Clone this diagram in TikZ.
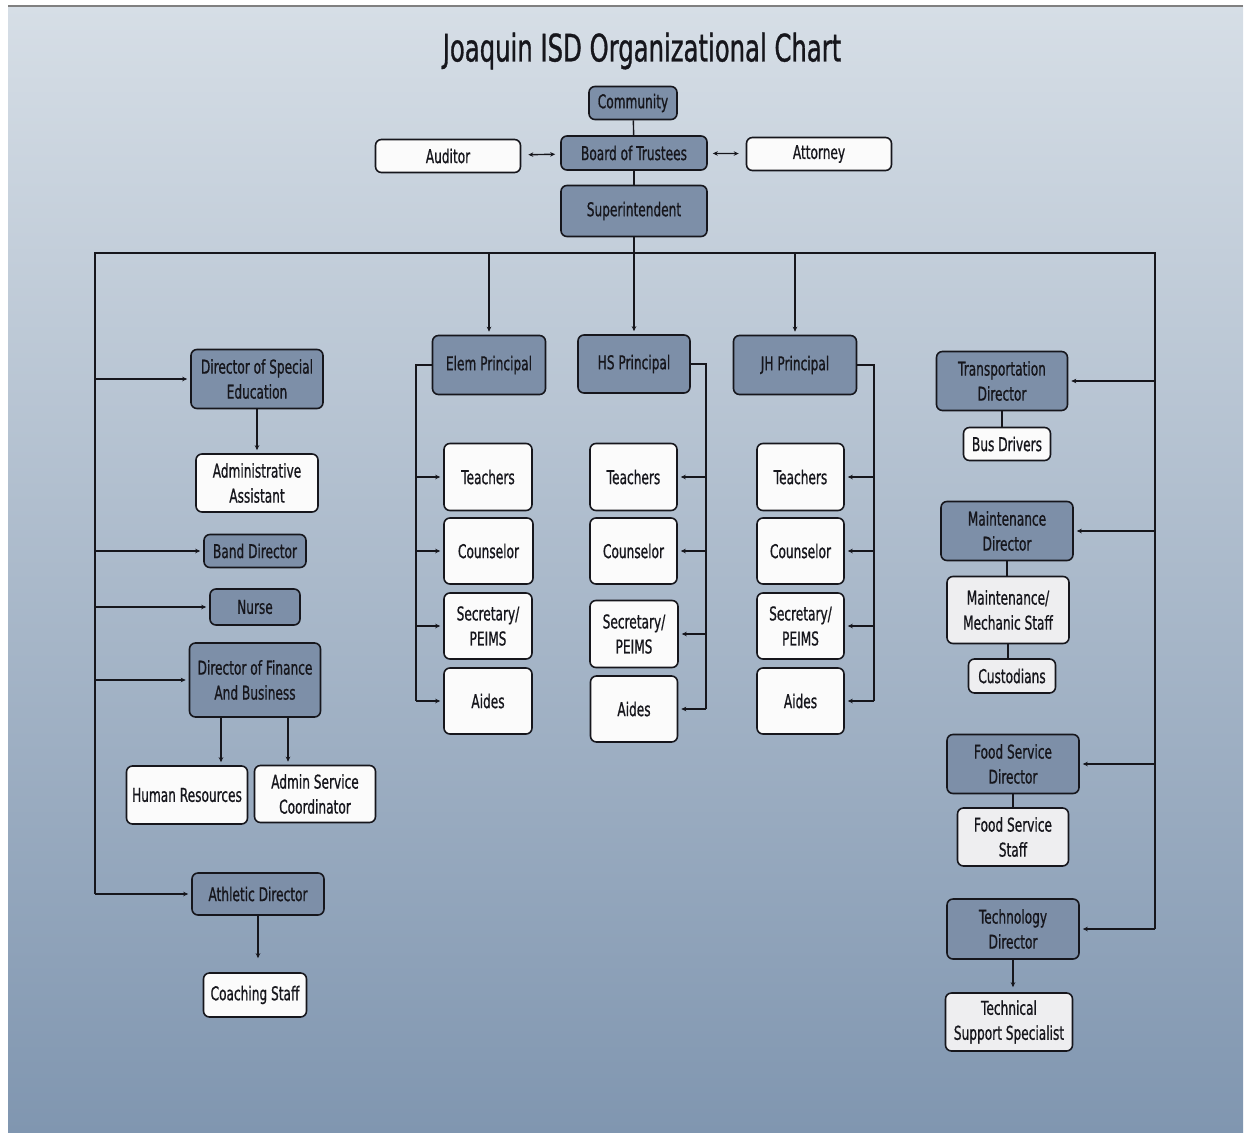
\documentclass[tikz,border=0pt]{standalone}
\usepackage{fontspec}
\setmainfont[FakeStretch=0.64,FakeBold=0.8]{DejaVu Sans}
\usetikzlibrary{arrows.meta}
\definecolor{bgtop}{RGB}{214,222,230}
\definecolor{bgbot}{RGB}{128,150,176}
\definecolor{dfill}{RGB}{125,143,168}
\definecolor{wfill}{RGB}{251,251,251}
\definecolor{lfill}{RGB}{238,238,240}
\definecolor{ink}{RGB}{22,22,28}
\tikzset{
  box/.style={draw=ink, line width=1.6pt, rounded corners=6pt, inner sep=0pt, align=center,
    text=ink, font=\fontsize{19}{25}\selectfont},
  dbox/.style={box, fill=dfill},
  wbox/.style={box, fill=wfill},
  lbox/.style={box, fill=lfill},
  bus/.style={draw=ink, line width=2.2pt},
  link/.style={draw=ink, line width=1.4pt},
  arr/.style={draw=ink, line width=1.6pt, -{Stealth[length=5pt,width=4.5pt]}, shorten >=3pt},
  darr/.style={draw=ink, line width=1.4pt, {Stealth[length=5pt,width=4.5pt]}-{Stealth[length=5pt,width=4.5pt]}, shorten >=5pt, shorten <=7pt},
}
\begin{document}
\begin{tikzpicture}[x=1pt,y=-1pt]
\useasboundingbox (0,0) rectangle (1249,1132);
\fill[top color=bgtop, bottom color=bgbot] (8,6) rectangle (1243,1132);
\draw[line width=1.2pt, color=gray] (8,6) -- (1243,6);

\node[text=ink, font=\fontsize{38}{40}\selectfont] (title) at (642,51) {Joaquin ISD Organizational Chart};

% top
\node[dbox, minimum width=88pt, minimum height=33pt] (com) at (633,103) {Community};
\node[dbox, minimum width=146pt, minimum height=34pt] (bot) at (634,153) {Board of Trustees};
\node[wbox, minimum width=145pt, minimum height=33pt] (aud) at (448,156) {Auditor};
\node[wbox, minimum width=145pt, minimum height=33pt] (att) at (819,154) {Attorney};
\node[dbox, minimum width=146pt, minimum height=51pt] (sup) at (634,211) {Superintendent};

% left column
\node[dbox, minimum width=132pt, minimum height=59pt] (dse) at (257,379) {Director of Special\\Education};
\node[wbox, minimum width=122pt, minimum height=58pt] (adm) at (257,483) {Administrative\\Assistant};
\node[dbox, minimum width=102pt, minimum height=33pt] (band) at (255,551) {Band Director};
\node[dbox, minimum width=90pt, minimum height=36pt] (nurse) at (255,607) {Nurse};
\node[dbox, minimum width=131pt, minimum height=74pt] (dfb) at (255,680) {Director of Finance\\And Business};
\node[wbox, minimum width=121pt, minimum height=58pt] (hr) at (187,795) {Human Resources};
\node[wbox, minimum width=121pt, minimum height=57pt] (asc) at (315,794) {Admin Service\\Coordinator};
\node[dbox, minimum width=132pt, minimum height=42pt] (ath) at (258,894) {Athletic Director};
\node[wbox, minimum width=103pt, minimum height=44pt] (coach) at (255,995) {Coaching Staff};

% principals
\node[dbox, minimum width=113pt, minimum height=59pt] (elem) at (489,365) {Elem Principal};
\node[dbox, minimum width=112pt, minimum height=58pt] (hs) at (634,364) {HS Principal};
\node[dbox, minimum width=123pt, minimum height=59pt] (jh) at (795,365) {JH Principal};

\node[wbox, minimum width=88pt, minimum height=67pt] (et) at (488,477) {Teachers};
\node[wbox, minimum width=89pt, minimum height=66pt] (ec) at (488.5,551) {Counselor};
\node[wbox, minimum width=88pt, minimum height=66pt] (es) at (488,626) {Secretary/\\PEIMS};
\node[wbox, minimum width=88pt, minimum height=66pt] (ea) at (488,701) {Aides};

\node[wbox, minimum width=87pt, minimum height=67pt] (ht) at (633.5,477) {Teachers};
\node[wbox, minimum width=87pt, minimum height=66pt] (hc) at (633.5,551) {Counselor};
\node[wbox, minimum width=88pt, minimum height=67pt] (hsec) at (634,634) {Secretary/\\PEIMS};
\node[wbox, minimum width=87pt, minimum height=66pt] (ha) at (634,709) {Aides};

\node[wbox, minimum width=87pt, minimum height=67pt] (jt) at (800.5,477) {Teachers};
\node[wbox, minimum width=87pt, minimum height=66pt] (jc) at (800.5,551) {Counselor};
\node[wbox, minimum width=87pt, minimum height=66pt] (js) at (800.5,626) {Secretary/\\PEIMS};
\node[wbox, minimum width=87pt, minimum height=66pt] (ja) at (800.5,701) {Aides};

% right column
\node[dbox, minimum width=131pt, minimum height=59pt] (trd) at (1002,381) {Transportation\\Director};
\node[wbox, minimum width=87pt, minimum height=33pt] (busd) at (1007,444) {Bus Drivers};
\node[dbox, minimum width=132pt, minimum height=59pt] (mnt) at (1007,531) {Maintenance\\Director};
\node[lbox, minimum width=122pt, minimum height=67pt] (mms) at (1008,610) {Maintenance/\\Mechanic Staff};
\node[lbox, minimum width=87pt, minimum height=34pt] (cust) at (1012,676) {Custodians};
\node[dbox, minimum width=132pt, minimum height=59pt] (fsd) at (1013,764) {Food Service\\Director};
\node[lbox, minimum width=111pt, minimum height=58pt] (fss) at (1013,837) {Food Service\\Staff};
\node[dbox, minimum width=132pt, minimum height=60pt] (tch) at (1013,929) {Technology\\Director};
\node[lbox, minimum width=127pt, minimum height=58pt] (tss) at (1009,1022) {Technical\\Support Specialist};

% bus coordinates
\coordinate (bl) at (95,253);
\coordinate (bc) at (634,253);
\coordinate (br) at (1155,253);
\coordinate (ex) at (416,253);
\coordinate (hx) at (706,253);
\coordinate (jx) at (874,253);

% top connectors
\draw[link] (com) -- (bot);
\draw[link] (bot) -- (sup);
\draw[darr] (aud) -- (bot);
\draw[darr] (att) -- (bot);
\draw[bus] (sup) -- (bc);
\draw[bus] (bl |- ath.west) -- (bl) -- (br) -- (br |- tch.east);

% drops to principals
\draw[arr, line width=1.3pt] (bl -| elem.north) -- (elem.north);
\draw[arr, line width=1.3pt] (bc) -- (hs.north);
\draw[arr, line width=1.3pt] (bl -| jh.north) -- (jh.north);

% left branches
\draw[arr] (bl |- dse.west) -- (dse.west);
\draw[arr] (bl |- band.west) -- (band.west);
\draw[arr] (bl |- nurse.west) -- (nurse.west);
\draw[arr] (bl |- dfb.west) -- (dfb.west);
\draw[arr] (bl |- ath.west) -- (ath.west);
\draw[arr, line width=1.3pt] (dse.south) -- (adm.north);
\draw[arr, line width=1.3pt] (hr.north |- dfb.south) ++(34,0) coordinate (d1) -- (d1 |- hr.north);
\draw[arr, line width=1.3pt] (asc.north |- dfb.south) ++(-27,0) coordinate (d2) -- (d2 |- asc.north);
\draw[arr, line width=1.3pt, shorten >=14pt] (ath.south) -- (ath.south |- coach.north);

% right branches
\draw[arr] (br |- trd.east) -- (trd.east);
\draw[arr] (br |- mnt.east) -- (mnt.east);
\draw[arr] (br |- fsd.east) -- (fsd.east);
\draw[arr] (br |- tch.east) -- (tch.east);
\draw[link] (trd.south) -- (trd.south |- busd.north);
\draw[link] (mnt.south) -- (mnt.south |- mms.north);
\draw[link] (mms.south) -- (mms.south |- cust.north);
\draw[link] (fsd.south) -- (fsd.south |- fss.north);
\draw[arr, line width=1.3pt, shorten >=5pt] (tch.south) -- (tch.south |- tss.north);

% elem bracket
\draw[link] (elem.west) -- (ex |- elem.west) -- (ex |- ea.west);
\foreach \n in {et,ec,es,ea} \draw[arr, line width=1.3pt] (ex |- \n.west) -- (\n.west);
% hs bracket
\draw[link] (hs.east) -- (hx |- hs.east) -- (hx |- ha.east);
\foreach \n in {ht,hc,hsec,ha} \draw[arr, line width=1.3pt] (hx |- \n.east) -- (\n.east);
% jh bracket
\draw[link] (jh.east) -- (jx |- jh.east) -- (jx |- ja.east);
\foreach \n in {jt,jc,js,ja} \draw[arr, line width=1.3pt] (jx |- \n.east) -- (\n.east);
\end{tikzpicture}
\end{document}
